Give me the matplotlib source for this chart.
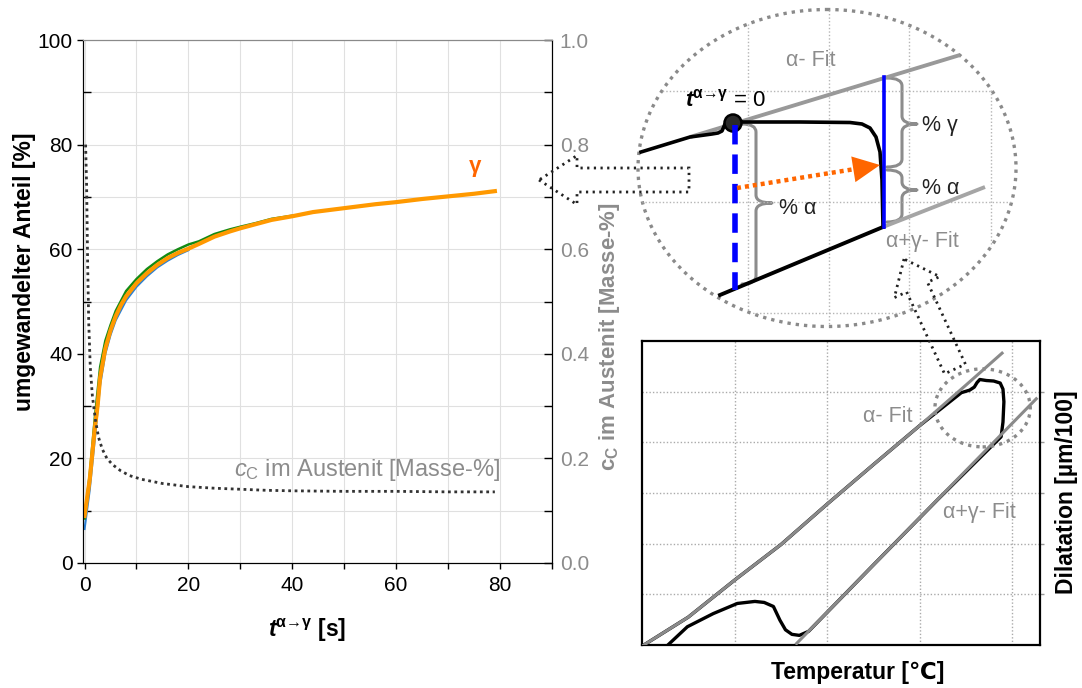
import matplotlib
matplotlib.use("Agg")
import matplotlib.pyplot as plt
import numpy as np
from matplotlib.patches import Ellipse, Circle, FancyArrow, Polygon, PathPatch
from matplotlib.path import Path

plt.rcParams["font.family"] = ["Liberation Sans", "DejaVu Sans"]
plt.rcParams["mathtext.fontset"] = "custom"
plt.rcParams["mathtext.rm"] = "Liberation Sans"
plt.rcParams["mathtext.it"] = "Liberation Sans:italic"
plt.rcParams["mathtext.bf"] = "Liberation Sans:bold:italic"
plt.rcParams["mathtext.sf"] = "Liberation Sans:bold"

INK = "#222222"
GRAY = "#8c8c8c"
ORANGE = "#FF9900"
ORANGE_LBL = "#FF6600"

# --- left chart: transformed fraction [%] vs. time [s] ---
T_GAMMA = [0, 0.5, 1, 1.5, 2, 2.5, 3, 4, 5, 6, 7, 8, 10, 12, 14, 16, 18, 20, 22, 25,
           28, 30, 33, 36, 40, 44, 48, 52, 56, 60, 65, 70, 75, 79]
GAMMA = [9.0, 12.5, 16.0, 21.0, 26.0, 30.0, 35.5, 41.0, 44.5, 47.2, 49.3, 51.0, 53.5,
         55.4, 57.0, 58.3, 59.3, 60.1, 61.0, 62.4, 63.4, 64.0, 64.8, 65.6, 66.3, 67.1,
         67.6, 68.1, 68.6, 69.0, 69.6, 70.1, 70.6, 71.1]
T_GREEN = [0, 1, 2, 3, 4, 5, 6, 8, 10, 12, 14, 16, 18, 20, 22, 25, 28, 30, 33, 36, 40]
GREEN = [8.5, 17.0, 28.0, 37.5, 42.5, 45.5, 48.2, 52.0, 54.3, 56.2, 57.7, 59.0, 60.0,
         60.9, 61.5, 62.9, 63.8, 64.3, 65.0, 65.8, 66.4]
T_BLUE = [0, 1, 2, 3, 4, 5, 6, 8, 10, 12, 14, 16, 18, 20]
BLUE_VALS = [6.5, 14.0, 24.0, 34.0, 40.0, 43.6, 46.4, 50.2, 52.8, 54.8, 56.5, 57.8,
             58.9, 59.8]
T_CC = [0.2, 0.4, 0.6, 0.8, 1.1, 1.5, 2.1, 2.7, 3.4, 4.3, 5.4, 7, 8.7, 11, 15, 20, 25,
        30, 35, 40, 50, 60, 70, 79]
CC = [0.80, 0.72, 0.57, 0.46, 0.375, 0.32, 0.273, 0.24, 0.218, 0.20, 0.188, 0.176,
      0.167, 0.160, 0.152, 0.146, 0.143, 0.141, 0.139, 0.138, 0.137, 0.137, 0.136, 0.136]

X_MAJOR = [0, 20, 40, 60, 80]
X_MINOR = [10, 30, 50, 70, 90]
Y_MAJOR = [0, 20, 40, 60, 80, 100]
Y_MINOR = [10, 30, 50, 70, 90]
Y2_TICKS = [0.0, 0.1, 0.2, 0.3, 0.4, 0.5, 0.6, 0.7, 0.8, 0.9, 1.0]
Y2_LABELS = ["0.0", "", "0.2", "", "0.4", "", "0.6", "", "0.8", "", "1.0"]

# --- bottom-right chart: dilatation vs. temperature (schematic units) ---
AFIT_X = [0.02, 0.5, 1.0, 1.5, 2.0, 2.5, 3.0, 3.5, 3.89]
AFIT_Y = [0.0, 0.55, 1.28, 1.98, 2.78, 3.56, 4.33, 5.13, 5.76]
AGFIT_X = [1.67, 4.26]
AGFIT_Y = [0.03, 4.86]
LOOP_X = [0.28, 0.49, 0.77, 1.03, 1.22, 1.32, 1.42, 1.49, 1.55, 1.62, 1.70, 1.80, 2.5,
          3.2, 3.88, 3.90, 3.91, 3.90, 3.87, 3.80, 3.72, 3.65, 3.62, 3.59, 3.54, 3.45,
          3.0, 2.5, 2.0, 1.5, 1.0, 0.5, 0.02]
LOOP_Y = [0.0, 0.36, 0.62, 0.82, 0.86, 0.84, 0.76, 0.49, 0.30, 0.21, 0.19, 0.27, 1.58,
          2.88, 4.11, 4.40, 4.80, 5.05, 5.17, 5.21, 5.22, 5.24, 5.18, 5.09, 5.03, 4.98,
          4.33, 3.56, 2.78, 1.98, 1.28, 0.55, 0.0]
ZOOM_CIRCLE = (3.68, 4.68, 1.03, 1.54)

# --- magnified inset (figure pixel coordinates) ---
INSET = (827, 168, 378, 317)
INSET_GRID_X = [748, 829, 909, 991]
INSET_GRID_Y = [91, 202, 313]
IN_AFIT_X = [690, 960]
IN_AFIT_Y = [137, 55]
IN_AGFIT_X = [883, 985]
IN_AGFIT_Y = [227, 187]
IN_CURVE_X = [641, 690, 712, 718, 722, 725, 732, 743, 800, 850, 862, 870, 876, 880, 882, 883]
IN_CURVE_Y = [152, 137, 134, 133, 131, 124, 120, 122, 122, 122.5, 124, 128, 137, 152, 180, 227]
IN_LOWER_X = [883, 720]
IN_LOWER_Y = [227, 295]
START_MARK = (733, 123)
BLUE_DASH = (735, 125, 290)
BLUE_SOLID = (884, 77, 227)
ORANGE_ARROW = ((737, 188), (880, 165))
BRACES = [(742, 756, 772, 124, 284, 203),
          (887, 902, 917, 78, 167, 124),
          (887, 902, 917, 170, 222, 190)]
LEFT_ARROW = ((689, 180), (539, 180))
LOWER_ARROW = ((955, 369), (904, 259))

T_SUP = r"$\mathbf{t}^{\mathsf{α→γ}}$"


def brace(ax, xe, xs, xt, y0, y1, ym, r=8):
    verts = [(xe, y0), (xs, y0), (xs, y0 + r), (xs, ym - r), (xs, ym), (xt, ym),
             (xs, ym), (xs, ym + r), (xs, y1 - r), (xs, y1), (xe, y1)]
    codes = [Path.MOVETO, Path.CURVE3, Path.CURVE3, Path.LINETO, Path.CURVE3, Path.CURVE3,
             Path.CURVE3, Path.CURVE3, Path.LINETO, Path.CURVE3, Path.CURVE3]
    ax.add_patch(PathPatch(Path(verts, codes), fill=False, edgecolor=GRAY, lw=2.2,
                           capstyle="round", joinstyle="round"))


def hollow_arrow(ax, tail, tip, width, head_width, head_length):
    ax.add_patch(FancyArrow(tail[0], tail[1], tip[0] - tail[0], tip[1] - tail[1],
                            width=width, head_width=head_width, head_length=head_length,
                            length_includes_head=True, fill=False, edgecolor=INK,
                            linestyle=(0, (0.8, 1.6)), lw=2.0, zorder=5))


fig = plt.figure(figsize=(10.82, 6.88), dpi=100)

# ---------------- left chart ----------------
ax = fig.add_axes([83 / 1082, 1 - 563 / 688, 469 / 1082, 523 / 688])
ax.set_xlim(-0.3, 90)
ax.set_ylim(0, 100)
ax.set_xticks(X_MAJOR)
ax.set_xticks(X_MINOR, minor=True)
ax.set_yticks(Y_MAJOR)
ax.set_yticks(Y_MINOR, minor=True)
ax.grid(True, which="both", color="#e0e0e0", lw=0.8)
ax.set_axisbelow(True)
ax.tick_params(axis="x", which="both", direction="out", length=4.5, width=1,
               labelsize=15, pad=5)
ax.tick_params(axis="y", which="major", direction="out", length=4.5, width=1,
               labelsize=15, pad=3)
ax.tick_params(axis="y", which="minor", direction="in", length=6, width=1)
ax.plot(T_BLUE, BLUE_VALS, color="#2a7fd4", lw=1.5, zorder=3)
ax.plot(T_GREEN, GREEN, color="#138a13", lw=1.8, zorder=3)
ax.plot(T_GAMMA, GAMMA, color=ORANGE, lw=3.0, zorder=4)
ax.text(75.2, 75.8, "γ", color=ORANGE_LBL, fontsize=16, fontweight="bold",
        ha="center", va="center")
for side in ("left", "bottom", "right"):
    ax.spines[side].set_color("black")
ax.spines["top"].set_color("#8a8a8a")

ax2 = ax.twinx()
ax2.set_ylim(0, 1)
ax2.set_yticks(Y2_TICKS)
ax2.set_yticklabels(Y2_LABELS)
ax2.tick_params(axis="y", direction="in", length=6, width=1, labelsize=15,
                labelcolor=GRAY, pad=5.5)
ax2.spines["top"].set_color("#8a8a8a")
ax2.plot(T_CC, CC, color="#333333", lw=2.0, linestyle=(0, (1, 1.3)), zorder=5)
ax2.text(80, 0.177, r"$c_\mathrm{C}$ im Austenit [Masse-%]", color=GRAY, fontsize=17,
         ha="right", va="center")

# ---------------- bottom-right chart ----------------
ax3 = fig.add_axes([642 / 1082, 1 - 645 / 688, 398 / 1082, 304 / 688])
ax3.set_xlim(0, 4.3)
ax3.set_ylim(0, 6)
ax3.set_xticks([1, 2, 3, 4])
ax3.set_yticks([1, 2, 3, 4, 5])
ax3.set_xticklabels([])
ax3.set_yticklabels([])
ax3.yaxis.tick_right()
ax3.tick_params(axis="y", direction="out", length=3, width=1, colors="#999999")
ax3.tick_params(axis="x", length=0)
ax3.grid(True, color="#aaaaaa", lw=1.0, linestyle=(0, (1, 1.5)))
ax3.set_axisbelow(True)
for sp in ax3.spines.values():
    sp.set_linewidth(1.6)
ax3.plot(LOOP_X, LOOP_Y, color="black", lw=2.4, zorder=3)
ax3.plot(AFIT_X, AFIT_Y, color="#8a8a8a", lw=2.2, zorder=4)
ax3.plot(AGFIT_X, AGFIT_Y, color="#8a8a8a", lw=2.2, zorder=4)
cx, cy, cw, ch = ZOOM_CIRCLE
ax3.add_patch(Ellipse((cx, cy), cw, ch, fill=False, edgecolor="#8a8a8a", lw=2.4,
                      linestyle=(0, (1, 1.5)), zorder=5, clip_on=False))
ax3.text(2.65, 4.5, "α- Fit", color=GRAY, fontsize=15.5, ha="center", va="center")
ax3.text(3.65, 2.62, "α+γ- Fit", color=GRAY, fontsize=15.5, ha="center", va="center")

# ---------------- overlay: inset, arrows and labels ----------------
ov = fig.add_axes([0, 0, 1, 1], zorder=10)
ov.axis("off")

ex, ey, ew, eh = INSET
clip = Ellipse((ex, ey), ew, eh, transform=ov.transData)
for gx in INSET_GRID_X:
    ln, = ov.plot([gx, gx], [ey - eh / 2, ey + eh / 2], color="#b5b5b5", lw=1.0,
                  linestyle=(0, (1, 1.5)))
    ln.set_clip_path(clip)
for gy in INSET_GRID_Y:
    ln, = ov.plot([ex - ew / 2, ex + ew / 2], [gy, gy], color="#b5b5b5", lw=1.0,
                  linestyle=(0, (1, 1.5)))
    ln.set_clip_path(clip)
ov.add_patch(Ellipse((ex, ey), ew, eh, fill=False, edgecolor="#8a8a8a", lw=2.4,
                     linestyle=(0, (1, 1.5))))

ov.plot(IN_AFIT_X, IN_AFIT_Y, color="#999999", lw=2.8, solid_capstyle="butt")
ov.plot(IN_AGFIT_X, IN_AGFIT_Y, color="#a5a5a5", lw=2.8, solid_capstyle="butt")
ov.plot(IN_CURVE_X, IN_CURVE_Y, color="black", lw=2.6, zorder=3)
ov.plot(IN_LOWER_X, IN_LOWER_Y, color="black", lw=2.8, zorder=3)
ov.add_patch(Circle(START_MARK, 8.5, facecolor="#2a2a2a", edgecolor="black", lw=1.8,
                    zorder=4))
bx, by0, by1 = BLUE_DASH
ov.plot([bx, bx], [by0, by1], color="#0000ff", lw=4.0, linestyle=(0, (3.5, 1.8)), zorder=5)
bx, by0, by1 = BLUE_SOLID
ov.plot([bx, bx], [by0, by1], color="#0000ff", lw=2.6, zorder=5)

(ax0, ay0), (ax1, ay1) = ORANGE_ARROW
u = np.array([ax1 - ax0, ay1 - ay0], dtype=float)
u /= np.hypot(*u)
n = np.array([-u[1], u[0]])
tip = np.array([ax1, ay1], dtype=float)
base = tip - 27 * u
ov.plot([ax0, base[0]], [ay0, base[1]], color=ORANGE_LBL, lw=3.2,
        linestyle=(0, (0.9, 0.9)), zorder=5)
ov.add_patch(Polygon([tip, base + 13 * n, base - 13 * n], closed=True,
                     facecolor=ORANGE_LBL, edgecolor="none", zorder=5))

for b in BRACES:
    brace(ov, *b)

ov.text(779, 208, "% α", fontsize=15.5, color=INK, ha="left", va="center")
ov.text(922, 125, "% γ", fontsize=15.5, color=INK, ha="left", va="center")
ov.text(922, 188, "% α", fontsize=15.5, color=INK, ha="left", va="center")
ov.text(811, 60, "α- Fit", fontsize=15.5, color=GRAY, ha="center", va="center")
ov.text(922, 242, "α+γ- Fit", fontsize=15.5, color=GRAY, ha="center", va="center")
ov.text(725, 100, T_SUP + " = 0", fontsize=16, color="black", ha="center", va="center")

hollow_arrow(ov, LEFT_ARROW[0], LEFT_ARROW[1], 24, 49, 38)
hollow_arrow(ov, LOWER_ARROW[0], LOWER_ARROW[1], 23, 50, 31)

# axis labels
ov.text(25, 272, "umgewandelter Anteil [%]", fontsize=16.5, fontweight="bold",
        rotation=90, ha="center", va="center")
ov.text(609, 337, r"$\mathsf{c}_\mathsf{C}$ im Austenit [Masse-%]", fontsize=16,
        fontweight="bold", color=GRAY, rotation=90, ha="center", va="center")
ov.text(307, 630, T_SUP + " [s]", fontsize=16.5, fontweight="bold",
        ha="center", va="center")
ov.text(858, 673, "Temperatur [℃]", fontsize=16.5, fontweight="bold",
        ha="center", va="center")
ov.text(1067, 492, "Dilatation [µm/100]", fontsize=16.5, fontweight="bold",
        rotation=90, ha="center", va="center")

ov.set_xlim(0, 1082)
ov.set_ylim(688, 0)

fig.savefig("out.png", dpi=100)
